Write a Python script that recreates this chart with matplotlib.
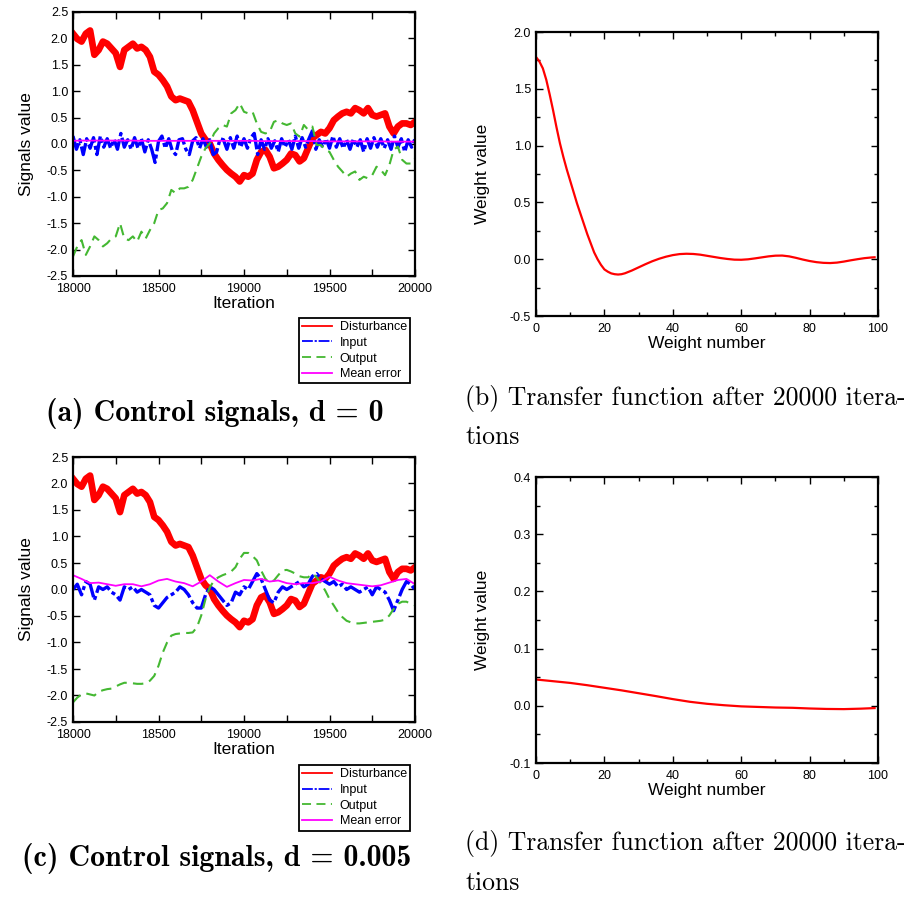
import numpy as np
import matplotlib
matplotlib.use("Agg")
import matplotlib.pyplot as plt
from matplotlib.ticker import MultipleLocator

plt.rcParams['font.family'] = ['Liberation Sans', 'DejaVu Sans']

# ---- control signals, sampled every 25 iterations (18000..20000) ----
iters = np.arange(18000, 20001, 25)

disturbance = [2.09, 1.99, 1.94, 2.09, 2.15, 1.69, 1.78, 1.94, 1.90, 1.81,
               1.72, 1.46, 1.78, 1.84, 1.90, 1.81, 1.84, 1.78, 1.65, 1.37,
               1.31, 1.21, 1.09, 0.90, 0.83, 0.86, 0.83, 0.80, 0.64, 0.42,
               0.20, 0.08, 0.01, -0.18, -0.30, -0.40, -0.49, -0.56, -0.62, -0.71,
               -0.59, -0.62, -0.56, -0.30, -0.15, -0.11, -0.24, -0.46, -0.43, -0.37,
               -0.30, -0.18, -0.21, -0.33, -0.27, -0.08, 0.11, 0.17, 0.23, 0.20,
               0.30, 0.45, 0.52, 0.58, 0.61, 0.58, 0.68, 0.64, 0.58, 0.68,
               0.55, 0.52, 0.55, 0.58, 0.33, 0.20, 0.33, 0.39, 0.39, 0.36, 0.42]

output_a = [-2.13, -1.94, -1.82, -2.10, -1.94, -1.75, -1.82, -1.94, -1.88, -1.79,
            -1.75, -1.50, -1.79, -1.82, -1.75, -1.85, -1.66, -1.79, -1.63, -1.50,
            -1.25, -1.22, -1.12, -0.87, -0.93, -0.84, -0.84, -0.81, -0.68, -0.46,
            -0.24, -0.08, 0.01, 0.20, 0.30, 0.36, 0.33, 0.58, 0.64, 0.77,
            0.61, 0.58, 0.61, 0.39, 0.23, 0.20, 0.23, 0.42, 0.45, 0.39,
            0.36, 0.39, 0.20, 0.14, 0.36, 0.27, 0.33, -0.02, -0.02, -0.11,
            -0.15, -0.30, -0.43, -0.52, -0.62, -0.56, -0.52, -0.68, -0.62, -0.65,
            -0.59, -0.43, -0.49, -0.59, -0.40, -0.11, -0.05, -0.30, -0.37, -0.37, -0.27]

output_c = [-2.13, -2.04, -1.98, -1.96, -1.98, -2.00, -1.93, -1.90, -1.88, -1.87,
            -1.83, -1.79, -1.76, -1.76, -1.77, -1.78, -1.78, -1.77, -1.72, -1.63,
            -1.44, -1.19, -1.00, -0.87, -0.84, -0.83, -0.82, -0.82, -0.81, -0.71,
            -0.49, -0.18, 0.04, 0.17, 0.23, 0.27, 0.30, 0.34, 0.42, 0.58,
            0.69, 0.69, 0.63, 0.55, 0.36, 0.20, 0.14, 0.17, 0.27, 0.36,
            0.37, 0.34, 0.30, 0.25, 0.23, 0.23, 0.30, 0.23, 0.11, -0.02,
            -0.18, -0.30, -0.43, -0.52, -0.59, -0.62, -0.64, -0.64, -0.63, -0.62,
            -0.61, -0.60, -0.59, -0.57, -0.49, -0.37, -0.27, -0.23, -0.23, -0.27, -0.30]

input_c = [0.00, 0.10, -0.10, 0.15, 0.10, -0.20, 0.05, 0.00, 0.05, -0.05,
           -0.10, -0.20, 0.05, 0.00, 0.05, -0.05, 0.00, -0.05, -0.10, -0.30,
           -0.35, -0.25, -0.15, -0.10, -0.05, 0.05, 0.00, -0.10, -0.25, -0.35,
           -0.35, -0.10, 0.05, 0.00, -0.10, -0.20, -0.30, -0.25, -0.05, -0.10,
           0.05, 0.00, 0.15, 0.30, 0.20, 0.00, -0.20, -0.25, -0.05, 0.05,
           0.00, 0.05, 0.10, 0.15, 0.05, 0.10, 0.25, 0.30, 0.20, 0.15,
           0.10, 0.15, 0.05, 0.10, 0.00, 0.05, 0.00, -0.05, 0.00, 0.05,
           -0.10, 0.05, 0.00, -0.05, -0.20, -0.40, -0.20, 0.00, 0.15, 0.10, 0.00]

# input for d = 0 jitters around zero, sampled every 20 iterations
iters_in = np.arange(18000, 20001, 20)
input_a = [0.15, -0.10, 0.08, -0.20, 0.10, -0.08, 0.12, -0.20, 0.15, -0.06,
           0.10, -0.08, 0.09, -0.10, 0.20, -0.06, 0.08, -0.10, 0.12, -0.08,
           0.10, -0.15, 0.08, -0.10, -0.35, 0.05, 0.15, -0.08, 0.10, -0.12,
           -0.20, 0.08, 0.10, -0.10, -0.20, 0.06, 0.12, -0.08, 0.10, -0.06,
           0.08, -0.20, -0.15, 0.10, 0.08, -0.10, 0.12, -0.08, 0.15, -0.06,
           0.10, -0.08, 0.12, 0.20, -0.20, 0.08, -0.10, 0.10, -0.08, 0.06,
           -0.15, 0.10, -0.06, 0.08, -0.10, 0.15, -0.08, 0.12, -0.06, 0.10,
           0.25, -0.10, 0.08, -0.06, 0.10, -0.08, 0.15, -0.06, 0.10, -0.08,
           0.08, -0.10, 0.10, -0.06, 0.08, -0.15, 0.10, -0.08, 0.12, -0.06,
           0.10, -0.08, 0.08, -0.10, 0.15, -0.06, 0.10, -0.15, 0.08, -0.06, 0.10]

# mean error
iters_me = np.arange(18000, 20001, 50)
mean_err_a = [0.06, 0.065, 0.065, 0.065, 0.065, 0.065, 0.065, 0.065, 0.06, 0.06,
              0.06, 0.06, 0.06, 0.06, 0.06, 0.06, 0.06, 0.06, 0.06, 0.06,
              0.06, 0.06, 0.055, 0.055, 0.055, 0.055, 0.055, 0.055, 0.055, 0.05,
              0.05, 0.05, 0.05, 0.05, 0.05, 0.05, 0.05, 0.045, 0.045, 0.045, 0.045]
mean_err_c = [0.27, 0.20, 0.12, 0.13, 0.10, 0.07, 0.10, 0.10, 0.06, 0.10,
              0.17, 0.20, 0.15, 0.12, 0.06, 0.15, 0.27, 0.15, 0.05, 0.12,
              0.18, 0.17, 0.20, 0.15, 0.17, 0.12, 0.10, 0.12, 0.12, 0.15,
              0.24, 0.17, 0.12, 0.10, 0.08, 0.06, 0.08, 0.13, 0.18, 0.20, 0.10]

# ---- transfer functions ----
w_num_b = [0, 1, 2, 3, 4, 5, 6, 7, 8, 9, 10, 11, 12, 13, 14, 15, 16, 17, 18, 19,
           20, 21, 22, 23, 24, 25, 26, 28, 30, 32, 34, 36, 38, 40, 42, 44, 46, 48,
           50, 52, 54, 56, 58, 60, 62, 64, 66, 68, 70, 72, 74, 76, 78, 80, 82, 84,
           86, 88, 90, 92, 94, 96, 98, 99]
weights_b = [1.78, 1.74, 1.68, 1.58, 1.45, 1.31, 1.16, 1.02, 0.90, 0.79, 0.69,
             0.59, 0.49, 0.40, 0.31, 0.22, 0.14, 0.06, 0.00, -0.05, -0.09, -0.11,
             -0.125, -0.132, -0.135, -0.132, -0.124, -0.10, -0.072, -0.044,
             -0.018, 0.004, 0.022, 0.036, 0.045, 0.048, 0.046, 0.040, 0.030,
             0.020, 0.010, 0.002, -0.004, -0.005, -0.001, 0.007, 0.016, 0.025,
             0.031, 0.032, 0.025, 0.012, -0.003, -0.016, -0.026, -0.032, -0.034,
             -0.030, -0.021, -0.010, 0.000, 0.009, 0.015, 0.017]

w_num_d = [0, 5, 10, 15, 20, 25, 30, 35, 40, 45, 50, 55, 60, 65, 70, 75, 80,
           85, 90, 95, 99]
weights_d = [0.046, 0.043, 0.040, 0.036, 0.0315, 0.027, 0.022, 0.017, 0.0117,
             0.007, 0.0035, 0.001, -0.001, -0.002, -0.003, -0.0035, -0.0047,
             -0.0055, -0.0058, -0.005, -0.004]

RED = '#ff0000'
BLUE = '#0000ff'
GREEN = '#44b832'
MAGENTA = '#ff00ff'

W, H = 919, 897
fig = plt.figure(figsize=(W / 100, H / 100), dpi=100)


def box(left, top, right, bottom):
    return [left / W, 1 - bottom / H, (right - left) / W, (bottom - top) / H]


def style_axes(ax):
    for s in ax.spines.values():
        s.set_linewidth(1.6)
    ax.tick_params(which='both', direction='in', top=True, right=True,
                   labelsize=9, width=1.0)
    ax.tick_params(which='major', length=5)
    ax.tick_params(which='minor', length=3)
    ax.tick_params(axis='x', which='both', pad=5)


def signals_panel(rect, inp_x, inp, out, mean_err, legend_box):
    ax = fig.add_axes(box(*rect))
    ax.plot(iters, disturbance, color=RED, lw=4.8, label='Disturbance')
    ax.plot(inp_x, inp, color=BLUE, lw=2.4, ls=(0, (6, 1.0, 1.2, 1.0)),
            label='Input')
    ax.plot(iters, out, color=GREEN, lw=1.5, ls=(0, (5, 3)), label='Output')
    ax.plot(iters_me, mean_err, color=MAGENTA, lw=1.3, label='Mean error')
    ax.set_xlim(18000, 20000)
    ax.set_ylim(-2.5, 2.5)
    ax.xaxis.set_major_locator(MultipleLocator(500))
    ax.xaxis.set_minor_locator(MultipleLocator(250))
    ax.yaxis.set_major_locator(MultipleLocator(0.5))
    ax.yaxis.set_major_formatter(lambda v, p: f"{v:.1f}")
    style_axes(ax)
    ax.tick_params(which='minor', length=5)
    ax.set_xlabel('Iteration', fontsize=12.5, labelpad=1)
    ax.set_ylabel('Signals value', fontsize=12.5, labelpad=9)
    handles, labels = ax.get_legend_handles_labels()
    # legend sits under the axes, right-aligned
    leg = fig.legend(handles, labels, loc='upper right',
                     bbox_to_anchor=(legend_box[0] / W, 1 - legend_box[1] / H),
                     fontsize=9, frameon=True, fancybox=False, edgecolor='black',
                     framealpha=1, handlelength=2.4, handletextpad=0.6,
                     labelspacing=0.3, borderpad=0.25, borderaxespad=0)
    leg.get_frame().set_linewidth(1.3)
    for line in leg.get_lines():
        line.set_linewidth(1.3)
    return ax


def weights_panel(rect, wx, wy, ylim, ymajor, yminor):
    ax = fig.add_axes(box(*rect))
    ax.plot(wx, wy, color=RED, lw=1.6)
    ax.set_xlim(0, 100)
    ax.set_ylim(*ylim)
    ax.xaxis.set_major_locator(MultipleLocator(20))
    ax.xaxis.set_minor_locator(MultipleLocator(10))
    ax.yaxis.set_major_locator(MultipleLocator(ymajor))
    ax.yaxis.set_minor_locator(MultipleLocator(yminor))
    ax.yaxis.set_major_formatter(lambda v, p: f"{v:.1f}")
    style_axes(ax)
    ax.set_xlabel('Weight number', fontsize=12.5, labelpad=1)
    ax.set_ylabel('Weight value', fontsize=12.5, labelpad=14)
    return ax


signals_panel((73, 12, 415, 276), iters_in, input_a, output_a, mean_err_a, (410, 318))
signals_panel((73, 457, 415, 722), iters, input_c, output_c, mean_err_c, (410, 765))
weights_panel((536, 32, 878, 316), w_num_b, weights_b, (-0.5, 2.0), 0.5, 0.25)
weights_panel((536, 477, 878, 763), w_num_d, weights_d, (-0.1, 0.4), 0.1, 0.05)

# sub-figure captions
fig.text(215 / W, 1 - 413 / H, '(a) Control signals, d = 0', family='cmb10',
         fontsize=21.5, ha='center', va='center')
fig.text(217 / W, 1 - 858 / H, '(c) Control signals, d = 0.005', family='cmb10',
         fontsize=21.5, ha='center', va='center')
for y1, y2, tag in [(398, 437, 'b'), (843, 883, 'd')]:
    fig.text(465 / W, 1 - y1 / H, f'({tag}) Transfer function after 20000 itera-',
             family='cmr10', fontsize=18.5, ha='left', va='center')
    fig.text(465 / W, 1 - y2 / H, 'tions', family='cmr10', fontsize=18.5,
             ha='left', va='center')

fig.savefig('out.png', dpi=100)
